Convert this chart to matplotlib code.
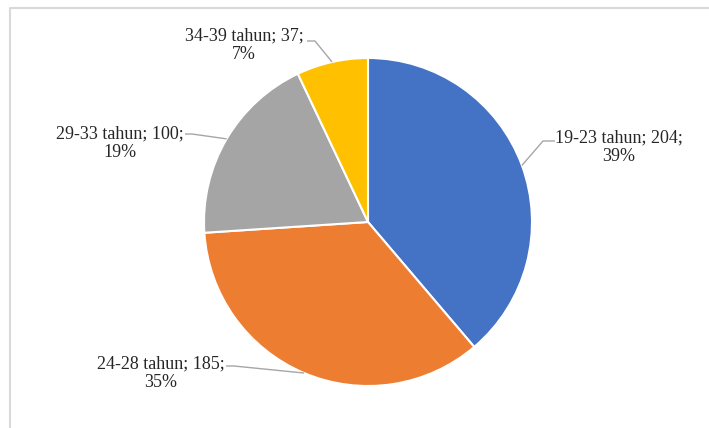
import numpy as np
import matplotlib
matplotlib.use("Agg")
import matplotlib.pyplot as plt
from matplotlib.lines import Line2D

categories = ["19-23 tahun", "24-28 tahun", "29-33 tahun", "34-39 tahun"]
counts = [204, 185, 100, 37]
colors = ["#4472C4", "#ED7D31", "#A5A5A5", "#FFC000"]

W, H = 709, 428
fig = plt.figure(figsize=(W / 100, H / 100), dpi=100)
ax = fig.add_axes([0, 0, 1, 1])

cx, cy, r = 368, H - 222, 164
wedges, _ = ax.pie(counts, colors=colors, startangle=90, counterclock=False,
                   center=(cx, cy), radius=r, frame=True,
                   wedgeprops=dict(edgecolor="white", linewidth=1.5))
ax.set_xlim(0, W)
ax.set_ylim(0, H)
ax.set_aspect("equal")
ax.axis("off")

total = sum(counts)
# label centre (pixels from top-left) and leader elbow points
label_pos = [(619, 147), (161, 373), (120, 143), (244, 45)]
elbows = [[(555, 141), (543, 141)],
          [(226, 366), (234, 366)],
          [(185, 134), (192, 134)],
          [(307, 41), (315, 41)]]

for w, cat, v, (lx, ly), elb in zip(wedges, categories, counts, label_pos, elbows):
    mid = np.deg2rad((w.theta1 + w.theta2) / 2)
    ex, ey = cx + r * np.cos(mid), cy + r * np.sin(mid)
    xs = [p[0] for p in elb] + [ex]
    ys = [H - p[1] for p in elb] + [ey]
    ax.plot(xs, ys, color="#A6A6A6", lw=1.0, solid_capstyle="butt")
    pct = round(v / total * 100)
    ax.text(lx, H - ly, f"{cat}; {v};\n{pct}%", ha="center", va="center",
            fontsize=13, family="Liberation Serif", color="#262626",
            linespacing=1.15)

# chart-area border (top and left edges)
fig.add_artist(Line2D([10 / W, 10 / W, 1], [0, 1 - 8 / H, 1 - 8 / H],
                      transform=fig.transFigure, color="#D9D9D9", lw=1.5))

fig.savefig("out.png", dpi=100)
